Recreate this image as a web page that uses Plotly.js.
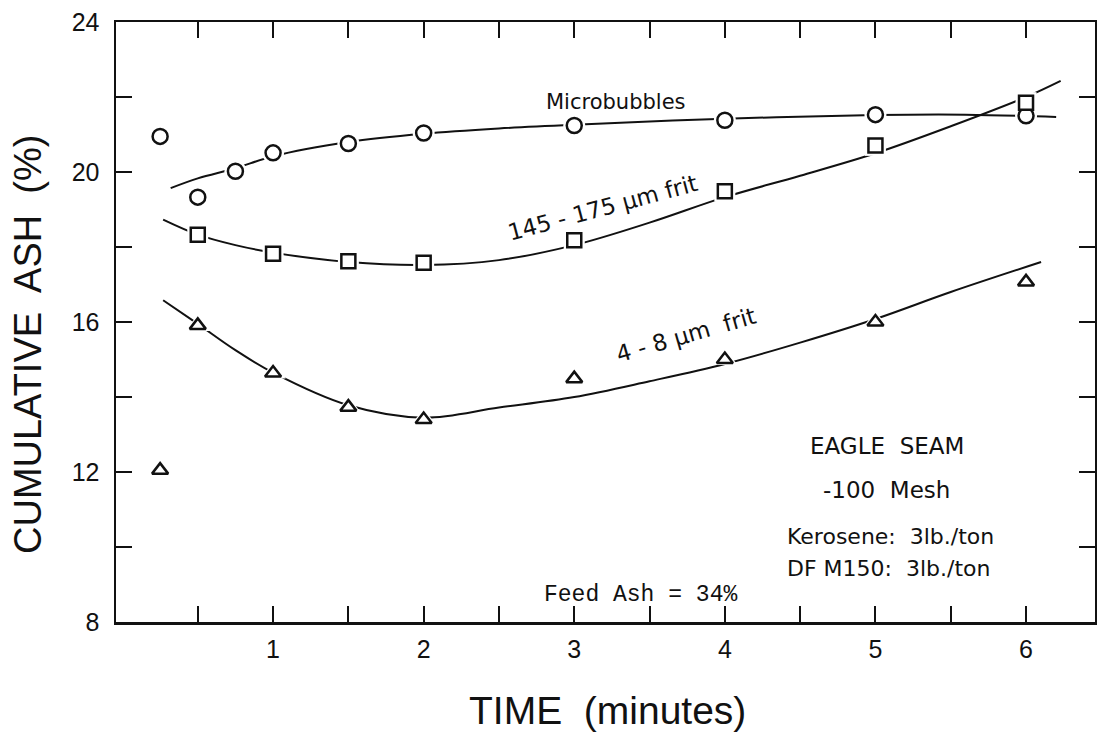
<!DOCTYPE html>
<html>
<head>
<meta charset="utf-8">
<script src="https://cdn.plot.ly/plotly-3.0.1.min.js"></script>
<style>html,body{margin:0;padding:0;background:#fff;}#chart{width:1097px;height:734px;}</style>
</head>
<body>
<div id="chart"></div>
<script>
const microTime = [0.25, 0.5, 0.75, 1, 1.5, 2, 3, 4, 5, 6];
const microAsh  = [20.95, 19.33, 20.02, 20.51, 20.76, 21.04, 21.24, 21.38, 21.53, 21.5];

const frit145Time = [0.5, 1, 1.5, 2, 3, 4, 5, 6];
const frit145Ash  = [18.33, 17.82, 17.62, 17.58, 18.18, 19.49, 20.71, 21.85];

const frit4Time = [0.25, 0.5, 1, 1.5, 2, 3, 4, 5, 6];
const frit4Ash  = [12.05, 15.91, 14.64, 13.73, 13.40, 14.49, 15.0, 16.0, 17.07];

// hand-drawn fitted curves
const microCurveT = [0.32, 0.5, 0.75, 1, 1.5, 2, 2.5, 3, 4, 5, 5.6, 6.2];
const microCurveA = [19.57, 19.83, 20.1, 20.42, 20.8, 21.02, 21.16, 21.26, 21.42, 21.52, 21.53, 21.47];

const frit145CurveT = [0.27, 0.5, 0.75, 1, 1.5, 2, 2.5, 3, 3.5, 4, 4.5, 5, 5.5, 6, 6.23];
const frit145CurveA = [18.73, 18.33, 18.05, 17.85, 17.6, 17.52, 17.65, 18.05, 18.65, 19.33, 19.9, 20.5, 21.22, 22.0, 22.43];

const frit4CurveT = [0.27, 0.5, 0.75, 1, 1.5, 2, 2.5, 3, 3.5, 4, 4.5, 5, 5.5, 6.1];
const frit4CurveA = [16.58, 15.95, 15.25, 14.65, 13.78, 13.45, 13.72, 14.0, 14.42, 14.88, 15.45, 16.08, 16.8, 17.6];

const xTickVals = [0.5, 1, 1.5, 2, 2.5, 3, 3.5, 4, 4.5, 5, 5.5, 6];
const xTickText = ['', '1', '', '2', '', '3', '', '4', '', '5', '', '6'];
const yTickVals = [8, 10, 12, 14, 16, 18, 20, 22, 24];
const yTickText = ['8', '', '12', '', '16', '', '20', '', '24'];

const curveLabels = ['Microbubbles', '145 - 175 µm frit', '4 - 8 µm  frit'];
const noteLines = ['EAGLE  SEAM', '-100  Mesh', 'Kerosene:  3lb./ton', 'DF M150:  3lb./ton'];
const feedNote = 'Feed Ash = 34%';
const xTitle = 'TIME  (minutes)';
const yTitle = 'CUMULATIVE  ASH  (%)';

// ---- layout geometry ----
const W = 1097, H = 734;
const M = {l: 116, r: 2, t: 22, b: 112};
const PW = W - M.l - M.r, PH = H - M.t - M.b;
const px = v => (v - M.l) / PW;
const py = v => (H - M.b - v) / PH;

const FONT = '"Liberation Sans", Arial, sans-serif';
const LFONT = '"DejaVu Sans", "Liberation Sans", sans-serif';
const ink = '#111';

function curve(t, a) {
  return {x: t, y: a, mode: 'lines', type: 'scatter', line: {color: ink, width: 2, shape: 'spline', smoothing: 1}, hoverinfo: 'skip'};
}
function halo(t, a, sym, size) {
  return {x: t, y: a, mode: 'markers', type: 'scatter', marker: {symbol: sym, size: size, color: '#fff', line: {width: 0}}, hoverinfo: 'skip'};
}
function pts(t, a, sym, size) {
  return {x: t, y: a, mode: 'markers', type: 'scatter', marker: {symbol: sym, size: size, color: '#fff', line: {color: ink, width: 2.5}}};
}

const data = [
  curve(microCurveT, microCurveA),
  curve(frit145CurveT, frit145CurveA),
  curve(frit4CurveT, frit4CurveA),
  halo(microTime, microAsh, 'circle', 22),
  halo(frit145Time, frit145Ash, 'square', 21),
  halo(frit4Time, frit4Ash, 'triangle-up', 22),
  pts(microTime, microAsh, 'circle', 15),
  pts(frit145Time, frit145Ash, 'square', 14),
  pts(frit4Time, frit4Ash, 'triangle-up', 14)
];

function ann(text, x, y, size, opts, fam) {
  return Object.assign({text: text, xref: 'paper', yref: 'paper', x: px(x), y: py(y), showarrow: false,
    font: {family: fam || LFONT, size: size, color: ink}, xanchor: 'center', yanchor: 'middle'}, opts || {});
}

const annotations = [
  ann(curveLabels[0], 616, 102, 21),
  ann(curveLabels[1], 602, 208, 23, {textangle: -15}),
  ann(curveLabels[2], 686, 335, 23, {textangle: -16}),
  ann(noteLines[0], 887, 446, 23),
  ann(noteLines[1], 886, 490, 23),
  ann(noteLines[2], 785, 536, 22, {xanchor: 'left'}),
  ann(noteLines[3], 785, 568, 22, {xanchor: 'left'}),
  ann(feedNote, 640, 595, 23, {}, '"Liberation Mono", "Courier New", monospace'),
  ann(xTitle, 607, 710, 39, {}, FONT),
  ann(yTitle, 28, 345, 38, {textangle: -90}, FONT)
];

const axisCommon = {
  showline: true, linewidth: 2.5, linecolor: ink, mirror: 'ticks',
  ticks: 'inside', ticklen: 16, tickwidth: 2, tickcolor: ink,
  showgrid: false, zeroline: false, tickmode: 'array'
};

const layout = {
  width: W, height: H, margin: M, showlegend: false,
  paper_bgcolor: '#fff', plot_bgcolor: '#fff',
  xaxis: Object.assign({}, axisCommon, {range: [-0.043, 6.458], tickvals: xTickVals, ticktext: xTickText, ticklabelstandoff: 3,
    tickfont: {family: FONT, size: 25, color: ink}}),
  yaxis: Object.assign({}, axisCommon, {range: [8, 24], tickvals: yTickVals, ticktext: yTickText, ticklabelstandoff: 9,
    tickfont: {family: FONT, size: 25, color: ink}}),
  annotations: annotations
};

Plotly.newPlot('chart', data, layout, {displayModeBar: false, staticPlot: true});
</script>
</body>
</html>
